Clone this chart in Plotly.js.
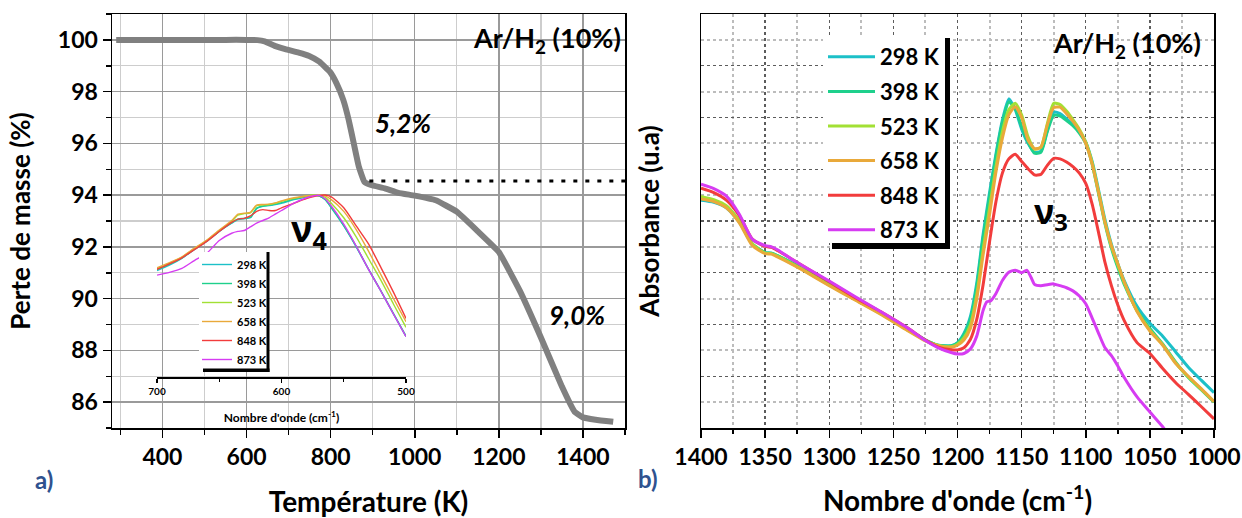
<!DOCTYPE html>
<html><head><meta charset="utf-8">
<script src="https://cdn.plot.ly/plotly-3.0.1.min.js"></script>
<style>html,body{margin:0;padding:0;background:#fff}#chart{width:1242px;height:518px}</style>
</head><body><div id="chart"></div>
<script>
// ---------- DATA ----------
// (a) thermogravimetry
const tgaTemp = [290,350,400,450,500,550,600,626,643,667,692,724,749,773,798,814,830,843,855,867,880,896,929,961,1000,1050,1100,1150,1200,1250,1300,1350,1380,1400,1430,1472];
const tgaMass = [100.0,100.0,100.0,100.0,100.0,100.0,100.0,99.99,99.94,99.77,99.64,99.51,99.38,99.16,98.77,98.32,97.68,96.9,96.0,95.1,94.52,94.39,94.26,94.09,93.98,93.8,93.36,92.6,91.8,90.3,88.5,86.6,85.63,85.41,85.32,85.24];
const stepTemp = [892, 1500];
const stepMass = [94.55, 94.55];

const seriesLabels = ['298 K','398 K','523 K','658 K','848 K','873 K'];

// (a) inset: nu4 band (normalised absorbance)
const insetWavenumber = [700,690,680,670,660,650,640,635,630,625,620,615,610,605,600,590,580,575,570,565,560,550,540,530,520,510,500];
const inset298 = [0.585,0.615,0.652,0.700,0.745,0.800,0.845,0.865,0.870,0.875,0.925,0.938,0.942,0.948,0.955,0.975,0.990,0.998,0.995,0.975,0.930,0.830,0.715,0.590,0.470,0.345,0.222];
const inset398 = [0.590,0.620,0.655,0.702,0.748,0.802,0.848,0.868,0.872,0.878,0.928,0.940,0.945,0.950,0.958,0.978,0.992,1.000,0.996,0.976,0.932,0.832,0.718,0.592,0.472,0.348,0.225];
const inset523 = [0.595,0.625,0.658,0.705,0.750,0.805,0.855,0.890,0.898,0.902,0.942,0.945,0.948,0.955,0.965,0.982,0.995,1.000,0.998,0.988,0.955,0.875,0.770,0.650,0.530,0.400,0.273];
const inset658 = [0.600,0.628,0.660,0.708,0.752,0.808,0.860,0.895,0.900,0.905,0.945,0.948,0.950,0.957,0.968,0.985,0.995,0.998,1.000,0.995,0.975,0.910,0.810,0.690,0.560,0.430,0.304];
const inset848 = [0.592,0.622,0.655,0.700,0.745,0.800,0.850,0.868,0.872,0.885,0.910,0.920,0.915,0.915,0.930,0.955,0.980,0.990,0.997,1.000,0.990,0.930,0.830,0.730,0.600,0.465,0.322];
const inset873 = [0.560,0.575,0.597,0.640,0.680,0.750,0.790,0.800,0.805,0.825,0.845,0.860,0.875,0.895,0.915,0.955,0.985,0.995,0.998,0.980,0.940,0.840,0.720,0.590,0.470,0.345,0.222];

// (b) nu3 band
const irWavenumber = [1400,1390,1380,1370,1360,1350,1345,1340,1330,1320,1300,1280,1260,1240,1225,1215,1205,1200,1195,1190,1185,1180,1175,1170,1165,1160,1155,1150,1145,1140,1135,1130,1125,1120,1115,1110,1105,1100,1095,1090,1085,1080,1075,1070,1060,1050,1040,1030,1020,1010,1000];
const ir298 = [8.80,8.72,8.50,7.95,7.10,6.78,6.76,6.65,6.40,6.12,5.55,5.00,4.45,3.85,3.40,3.20,3.18,3.30,3.65,4.30,5.60,7.50,9.10,10.60,11.90,12.72,12.30,11.55,11.00,10.65,10.70,11.50,12.20,12.15,11.95,11.75,11.45,11.05,10.30,9.20,8.05,7.10,6.35,5.70,4.70,4.05,3.55,2.95,2.35,1.85,1.37];
const ir398 = [8.88,8.78,8.55,7.98,7.12,6.78,6.76,6.65,6.40,6.12,5.55,5.00,4.45,3.85,3.40,3.20,3.17,3.28,3.60,4.20,5.45,7.35,8.95,10.50,11.80,12.60,12.35,11.65,11.05,10.62,10.65,11.45,12.08,12.05,11.88,11.68,11.40,11.00,10.20,9.05,7.90,6.95,6.20,5.55,4.55,3.85,3.25,2.55,1.95,1.48,1.00];
const ir523 = [8.95,8.82,8.58,8.00,7.12,6.76,6.74,6.63,6.37,6.10,5.52,4.97,4.42,3.82,3.38,3.19,3.14,3.24,3.48,3.98,5.15,6.90,8.50,10.10,11.45,12.30,12.55,12.10,11.25,10.78,10.85,11.75,12.55,12.50,12.25,11.92,11.55,11.05,10.25,9.12,7.95,7.02,6.30,5.62,4.52,3.78,3.22,2.52,1.97,1.50,1.02];
const ir658 = [8.85,8.75,8.50,7.92,7.05,6.74,6.72,6.60,6.35,6.08,5.50,4.95,4.40,3.80,3.37,3.18,3.12,3.20,3.40,3.85,5.00,6.70,8.25,9.90,11.20,12.10,12.42,12.00,11.13,10.80,10.85,11.70,12.38,12.40,12.15,11.85,11.50,11.00,10.20,9.10,7.95,7.05,6.35,5.65,4.50,3.75,3.20,2.50,2.00,1.52,1.02];
const ir848 = [9.27,9.10,8.80,8.20,7.30,7.02,6.98,6.85,6.55,6.25,5.65,5.05,4.50,3.90,3.40,3.12,3.02,3.02,3.10,3.42,4.20,5.55,7.20,8.75,9.85,10.40,10.58,10.30,10.02,9.78,9.80,10.15,10.42,10.40,10.28,10.10,9.85,9.45,8.65,7.55,6.40,5.50,4.75,4.15,3.30,2.88,2.30,1.76,1.30,0.83,0.35];
const ir873Wavenumber = [1400,1390,1380,1370,1360,1350,1345,1340,1330,1320,1300,1280,1260,1240,1225,1215,1205,1200,1195,1190,1185,1180,1177,1174,1170,1165,1160,1155,1150,1146,1142,1140,1135,1130,1125,1120,1115,1110,1105,1100,1095,1090,1085,1080,1075,1070,1060,1050,1040,1035];
const ir873 = [9.42,9.25,8.95,8.25,7.30,7.05,7.00,6.88,6.55,6.25,5.68,5.08,4.50,3.90,3.38,3.10,2.92,2.86,2.88,3.05,3.55,4.55,4.88,4.92,5.20,5.70,6.02,6.10,6.00,6.10,5.75,5.55,5.50,5.54,5.57,5.50,5.42,5.30,5.10,4.80,4.25,3.66,3.10,2.80,2.40,1.95,1.20,0.62,0.05,-0.30];

// ---------- STYLE ----------
const palette = ['#1cc0c8','#1ed08c','#a2e034','#e9a93a','#f23c3c','#d63cf2'];
const FONT = 'Lato, "Open Sans", sans-serif';
const W = 1242, H = 518, ML = 112, MR = 28, MT = 14, MB = 90;
const PW = W - ML - MR, PH = H - MT - MB;
const px = v => (v - ML) / PW;
const py = v => (H - MB - v) / PH;

const insetX = [insetWavenumber, insetWavenumber, insetWavenumber, insetWavenumber, insetWavenumber, insetWavenumber];
const insetY = [inset298, inset398, inset523, inset658, inset848, inset873];
const irX = [irWavenumber, irWavenumber, irWavenumber, irWavenumber, irWavenumber, ir873Wavenumber];
const irY = [ir298, ir398, ir523, ir658, ir848, ir873];

const traces = [];
traces.push({x: tgaTemp, y: tgaMass, xaxis: 'x', yaxis: 'y', mode: 'lines',
  line: {color: '#808080', width: 6, shape: 'spline', smoothing: 0.3}, showlegend: false, hoverinfo: 'skip'});
traces.push({x: stepTemp, y: stepMass, xaxis: 'x', yaxis: 'y', mode: 'lines',
  line: {color: '#000', width: 3, dash: '4px,8px'}, showlegend: false, hoverinfo: 'skip'});
seriesLabels.forEach((name, i) => {
  traces.push({x: insetX[i], y: insetY[i], xaxis: 'x3', yaxis: 'y3', mode: 'lines', name: name,
    legend: 'legend2', line: {color: palette[i], width: 1.4, shape: 'spline', smoothing: 0.6}});
});
seriesLabels.forEach((name, i) => {
  traces.push({x: irX[i], y: irY[i], xaxis: 'x2', yaxis: 'y2', mode: 'lines', name: name,
    legend: 'legend', legendgroup: 'ir' + i, line: {color: palette[i], width: 3, shape: 'spline', smoothing: 0.6}});
});

const tickFont = {family: FONT, size: 23, color: '#000', weight: 'bold'};
const titleFont = {family: FONT, size: 26, color: '#000', weight: 'bold'};
const titleFontX = {family: FONT, size: 28, color: '#000', weight: 'bold'};

const layout = {
  width: W, height: H,
  margin: {l: ML, r: MR, t: MT, b: MB},
  paper_bgcolor: '#fff', plot_bgcolor: 'rgba(0,0,0,0)',
  font: {family: FONT, color: '#000'},
  showlegend: true,
  xaxis: {domain: [0, px(625)], range: [280, 1500], anchor: 'y',
    dtick: 200, tick0: 0, ticks: 'outside', ticklen: 8, tickwidth: 1.5, tickcolor: '#000',
    showline: true, linecolor: '#000', linewidth: 1.5, mirror: true, zeroline: false,
    showgrid: true, gridcolor: '#9a9a9a', gridwidth: 1.3,
    minor: {dtick: 100, ticks: 'outside', ticklen: 5, tickcolor: '#000', showgrid: true, gridcolor: '#cdcdcd', gridwidth: 1.3},
    tickfont: tickFont,
    title: {text: 'Température (K)', font: titleFontX, standoff: 26}},
  yaxis: {domain: [0, 1], range: [85, 101], anchor: 'x',
    dtick: 2, tick0: 0, ticks: 'outside', ticklen: 8, tickwidth: 1.5, tickcolor: '#000',
    showline: true, linecolor: '#000', linewidth: 1.5, mirror: true, zeroline: false,
    showgrid: true, gridcolor: '#9a9a9a', gridwidth: 1.3,
    minor: {dtick: 1, ticks: 'outside', ticklen: 5, tickcolor: '#000', showgrid: true, gridcolor: '#cdcdcd', gridwidth: 1.3},
    tickfont: tickFont,
    title: {text: 'Perte de masse (%)', font: titleFont, standoff: 20}},
  xaxis2: {domain: [px(701), 1], range: [1400, 1000], anchor: 'y2',
    dtick: 50, tick0: 0, ticks: 'outside', ticklen: 8, tickwidth: 1.5, tickcolor: '#000',
    showline: true, linecolor: '#000', linewidth: 1.5, mirror: true, zeroline: false,
    showgrid: true, gridcolor: '#5c5c5c', gridwidth: 1.4, griddash: 'dot',
    minor: {dtick: 25, ticks: 'outside', ticklen: 4, tickcolor: '#000', showgrid: true, gridcolor: '#bcbcbc', gridwidth: 2},
    tickfont: tickFont,
    title: {text: "Nombre d'onde (cm<sup>-1</sup>)", font: titleFontX, standoff: 22}},
  yaxis2: {domain: [0, 1], range: [0, 16], anchor: 'x2',
    dtick: 2, tick0: 0, ticks: '', showticklabels: false,
    showline: true, linecolor: '#000', linewidth: 1.5, mirror: true, zeroline: false,
    showgrid: true, gridcolor: '#5c5c5c', gridwidth: 1.4, griddash: 'dot',
    minor: {dtick: 1, showgrid: true, gridcolor: '#bcbcbc', gridwidth: 2},
    title: {text: 'Absorbance (u.a)', font: titleFont, standoff: 32}},
  xaxis3: {domain: [px(157), px(406)], range: [700, 500], anchor: 'y3',
    dtick: 100, tick0: 0, ticks: 'outside', ticklen: 4, tickwidth: 1.2, tickcolor: '#000',
    showline: true, linecolor: '#000', linewidth: 1.5, zeroline: false, showgrid: false,
    minor: {dtick: 50, ticks: 'outside', ticklen: 3, tickcolor: '#000', showgrid: false},
    tickfont: {family: FONT, size: 10, color: '#000', weight: 'bold'},
    title: {text: "Nombre d'onde (cm<sup>-1</sup>)", font: {family: FONT, size: 12, color: '#000', weight: 'bold'}, standoff: 18}},
  yaxis3: {domain: [py(377), py(191.4)], range: [0, 1.02], anchor: 'x3', visible: false},
  legend: {x: px(823), xanchor: 'left', y: py(36), yanchor: 'top', bgcolor: 'rgba(0,0,0,0)', borderwidth: 0,
    itemwidth: 47, traceorder: 'grouped', tracegroupgap: 3,
    font: {family: FONT, size: 22, color: '#000', weight: 'bold'}},
  legend2: {x: px(197), xanchor: 'left', y: py(250), yanchor: 'top', bgcolor: 'rgba(0,0,0,0)', borderwidth: 0,
    itemwidth: 30, font: {family: FONT, size: 11, color: '#000', weight: 'bold'}},
  shapes: [
    {type: 'rect', xref: 'paper', yref: 'paper', layer: 'above', x0: px(823), x1: px(945), y0: py(36), y1: py(243), fillcolor: '#fff', line: {width: 0}},
    {type: 'rect', xref: 'paper', yref: 'paper', layer: 'above', x0: px(945), x1: px(950), y0: py(38), y1: py(249), fillcolor: '#000', line: {width: 0}},
    {type: 'rect', xref: 'paper', yref: 'paper', layer: 'above', x0: px(832), x1: px(950), y0: py(243), y1: py(249), fillcolor: '#000', line: {width: 0}},
    {type: 'rect', xref: 'paper', yref: 'paper', layer: 'above', x0: px(199), x1: px(267), y0: py(252), y1: py(369), fillcolor: '#fff', line: {width: 0}},
    {type: 'rect', xref: 'paper', yref: 'paper', layer: 'above', x0: px(266.5), x1: px(269.5), y0: py(252), y1: py(372), fillcolor: '#000', line: {width: 0}},
    {type: 'rect', xref: 'paper', yref: 'paper', layer: 'above', x0: px(203), x1: px(269.5), y0: py(368.5), y1: py(372), fillcolor: '#000', line: {width: 0}}
  ],
  annotations: [
    {text: 'Ar/H<sub>2</sub> (10%)', xref: 'paper', yref: 'paper', x: px(623), y: py(40), xanchor: 'right', yanchor: 'middle', showarrow: false,
      font: {family: FONT, size: 27, color: '#000', weight: 'bold'}},
    {text: 'Ar/H<sub>2</sub> (10%)', xref: 'paper', yref: 'paper', x: px(1203), y: py(44), xanchor: 'right', yanchor: 'middle', showarrow: false,
      font: {family: FONT, size: 27, color: '#000', weight: 'bold'}},
    {text: '5,2%', xref: 'paper', yref: 'paper', x: px(403), y: py(123), xanchor: 'center', yanchor: 'middle', showarrow: false,
      font: {family: FONT, size: 26, color: '#000', weight: 'bold', style: 'italic'}},
    {text: '9,0%', xref: 'paper', yref: 'paper', x: px(577), y: py(315), xanchor: 'center', yanchor: 'middle', showarrow: false,
      font: {family: FONT, size: 26, color: '#000', weight: 'bold', style: 'italic'}},
    {text: 'ν<sub>4</sub>', xref: 'paper', yref: 'paper', x: px(309), y: py(230), xanchor: 'center', yanchor: 'middle', showarrow: false,
      font: {family: '"Open Sans", sans-serif', size: 36, color: '#000', weight: 'bold'}},
    {text: 'ν<sub>3</sub>', xref: 'paper', yref: 'paper', x: px(1051), y: py(213), xanchor: 'center', yanchor: 'middle', showarrow: false,
      font: {family: '"Open Sans", sans-serif', size: 34, color: '#000', weight: 'bold'}},
    {text: 'a)', xref: 'paper', yref: 'paper', x: px(44), y: py(479), xanchor: 'center', yanchor: 'middle', showarrow: false,
      font: {family: FONT, size: 24, color: '#2f528f', weight: 'bold'}},
    {text: 'b)', xref: 'paper', yref: 'paper', x: px(648), y: py(478), xanchor: 'center', yanchor: 'middle', showarrow: false,
      font: {family: FONT, size: 24, color: '#2f528f', weight: 'bold'}}
  ]
};

Plotly.newPlot('chart', traces, layout, {displayModeBar: false, staticPlot: true});
</script></body></html>
